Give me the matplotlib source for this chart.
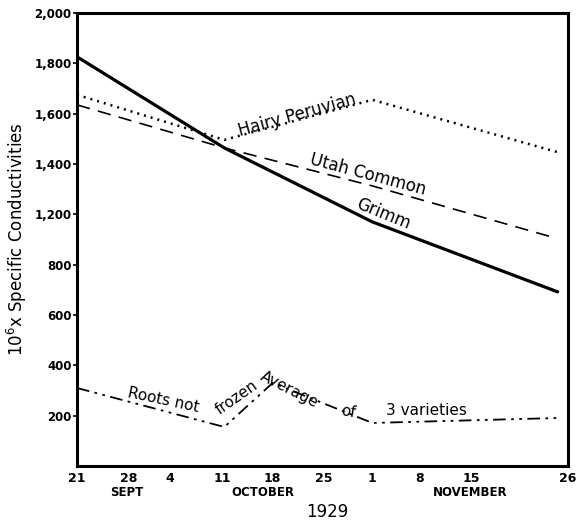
import numpy as np
import matplotlib
matplotlib.use("Agg")
import matplotlib.pyplot as plt

# x positions: days after 21 Sept 1929 (as drawn on the hand-made scale)
tick_days = [0, 7, 12.5, 19.5, 26.3, 33.2, 39.6, 46, 53, 66]
tick_labels = ["21", "28", "4", "11", "18", "25", "1", "8", "15", "26"]

# y: position on the drawn grid (each grid step = 200); labels as printed
ytick_pos = [200, 400, 600, 800, 1000, 1200, 1400, 1600, 1800]
ytick_labels = ["200", "400", "600", "800", "1,200", "1,400", "1,600", "1,800", "2,000"]

grimm_x = [0, 19.8, 39.7, 64.6]
grimm_y = [1626, 1264, 970, 692]

hairy_x = [0, 19.8, 39.7, 64.5]
hairy_y = [1475, 1296, 1455, 1248]

utah_x = [0, 19.8, 39.7, 64.3]
utah_y = [1435, 1264, 1113, 906]

roots_x = [0, 19.8, 26.3, 39.7, 65]
roots_y = [310, 155, 330, 171, 191]

fig = plt.figure(figsize=(5.79, 5.21), dpi=100)
ax = fig.add_axes([0.133, 0.1056, 0.848, 0.8694])

ax.plot(grimm_x, grimm_y, color="black", lw=2.3, solid_capstyle="round")
ax.plot(hairy_x, hairy_y, color="black", lw=1.8, ls=(0, (0.8, 2.0)))
ax.plot(utah_x, utah_y, color="black", lw=1.2, ls=(0, (8, 5)))
ax.plot(roots_x, roots_y, color="black", lw=1.3, ls=(0, (7, 3, 1.5, 3, 1.5, 3)))

ax.set_xlim(0, 66)
ax.set_ylim(0, 1800)

ax.set_xticks(tick_days)
ax.set_xticklabels(tick_labels, fontsize=9, fontweight="bold")
ax.set_yticks(ytick_pos)
ax.set_yticklabels(ytick_labels, fontsize=8.5, fontweight="bold")
ax.tick_params(axis="x", length=0, pad=4)
ax.tick_params(axis="y", length=3, width=1.2, pad=1)

for s in ax.spines.values():
    s.set_linewidth(2.2)

ax.set_ylabel(r"$10^6$x Specific Conductivities", fontsize=12)
ax.yaxis.set_label_coords(-0.097, 0.5)

# line labels
kw = dict(ha="center", va="center", fontsize=12, rotation_mode="anchor")
ax.text(29.6, 1393, "Hairy Peruvian", rotation=15.5, **kw)
ax.text(39.1, 1159, "Utah Common", rotation=-15, **kw)
ax.text(41.2, 1000, "Grimm", rotation=-22, **kw)
ax.text(11.6, 262, "Roots not", rotation=-12, fontsize=11, ha="center", va="center", rotation_mode="anchor")
ax.text(21.5, 270, "frozen", rotation=35, fontsize=11, ha="center", va="center", rotation_mode="anchor")
ax.text(28.6, 302, "Average", rotation=-27, fontsize=11, ha="center", va="center", rotation_mode="anchor")
ax.text(36.4, 215, "of", rotation=-10, fontsize=11, ha="center", va="center", rotation_mode="anchor")
ax.text(47, 222, "3 varieties", rotation=0, fontsize=11, ha="center", va="center")

# month and year labels under the axis
fig.text(127 / 579, 1 - 493 / 521, "SEPT", ha="center", va="center", fontsize=8.5, fontweight="bold")
fig.text(263 / 579, 1 - 493 / 521, "OCTOBER", ha="center", va="center", fontsize=8.5, fontweight="bold")
fig.text(470 / 579, 1 - 493 / 521, "NOVEMBER", ha="center", va="center", fontsize=8.5, fontweight="bold")
fig.text(327 / 579, 1 - 512 / 521, "1929", ha="center", va="center", fontsize=12)

fig.savefig("out.png", dpi=100)
